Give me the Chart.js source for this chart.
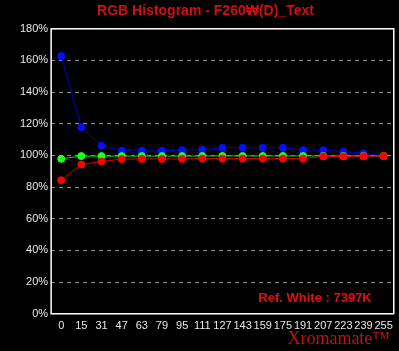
<!DOCTYPE html>
<html><head><meta charset="utf-8">
<script src="https://cdn.jsdelivr.net/npm/chart.js@4/dist/chart.umd.min.js"></script>
<style>html,body{margin:0;padding:0;background:#000;}canvas{display:block;}</style>
</head><body>
<canvas id="c" width="399" height="351"></canvas>
<script>
const categories = ['0','15','31','47','63','79','95','111','127','143','159','175','191','207','223','239','255'];
const redValues   = [84.4,94.3,96.2,97.7,97.8,97.8,97.8,98,98,98,98,98,98,99.4,99.4,99.5,99.6];
const greenValues = [97.9,99.6,99.6,99.6,99.6,99.6,99.6,99.7,99.7,99.7,99.7,99.7,99.7,99.7,99.7,99.7,99.7];
const blueValues  = [162.8,117.9,106.1,103,103,103,103.4,103.6,104.9,104.9,104.9,104.9,103.4,103.3,102.4,101.4,99.7];
const titleText = 'RGB Histogram - F260\u20A9(D)_Text';
const refWhiteText = 'Ref. White : 7397K';
const brandText = 'Xromamate\u2122';

const boxPlugin = {
  id: 'box',
  afterDraw(chart) {
    const {ctx, chartArea: a} = chart;
    ctx.save();
    ctx.strokeStyle = '#ffffff';
    ctx.lineWidth = 1.5;
    ctx.strokeRect(a.left, a.top, a.right - a.left, a.bottom - a.top);
    ctx.fillStyle = '#e01010';
    ctx.font = 'bold 13px "Liberation Sans", sans-serif';
    ctx.textAlign = 'right';
    ctx.textBaseline = 'middle';
    ctx.fillText(refWhiteText, a.right - 22, a.bottom - 15);
    ctx.font = '18px "Liberation Serif", serif';
    ctx.fillStyle = '#c01010';
    ctx.textAlign = 'right';
    ctx.textBaseline = 'alphabetic';
    ctx.fillText(brandText, 390, 344);
    ctx.restore();
  }
};

const ds = (label, data, line, pt) => ({
  label, data, borderColor: line, backgroundColor: pt, pointBackgroundColor: pt,
  pointBorderColor: pt, pointRadius: 3.5, borderWidth: 1, tension: 0
});

new Chart(document.getElementById('c'), {
  type: 'line',
  data: {
    labels: categories,
    datasets: [
      ds('Red', redValues, '#e00000', '#ff0000'),
      ds('Green', greenValues, '#00e000', '#20ff20'),
      ds('Blue', blueValues, '#0000d0', '#0010ff')
    ]
  },
  options: {
    responsive: false,
    animation: false,
    layout: { padding: { left: 17, right: 5, top: 0, bottom: 12 } },
    plugins: {
      legend: { display: false },
      tooltip: { enabled: false },
      title: {
        display: true, text: titleText, color: '#d01010',
        font: { family: '"Liberation Sans", sans-serif', size: 14, weight: 'bold' },
        padding: { top: 3, bottom: 9 }
      }
    },
    scales: {
      x: {
        offset: true,
        grid: { display: false, drawTicks: false },
        border: { display: false },
        ticks: { color: '#e8e8e8', font: { family: '"Liberation Sans", sans-serif', size: 11 }, padding: 6, maxRotation: 0, autoSkip: false }
      },
      y: {
        min: 0, max: 180,
        grid: { color: '#8a8a8a', drawTicks: false },
        border: { display: false, dash: [4, 4] },
        ticks: { stepSize: 20, color: '#e8e8e8', padding: 3, font: { family: '"Liberation Sans", sans-serif', size: 11 }, callback: v => v + '%' }
      }
    }
  },
  plugins: [boxPlugin]
});
</script>
</body></html>
